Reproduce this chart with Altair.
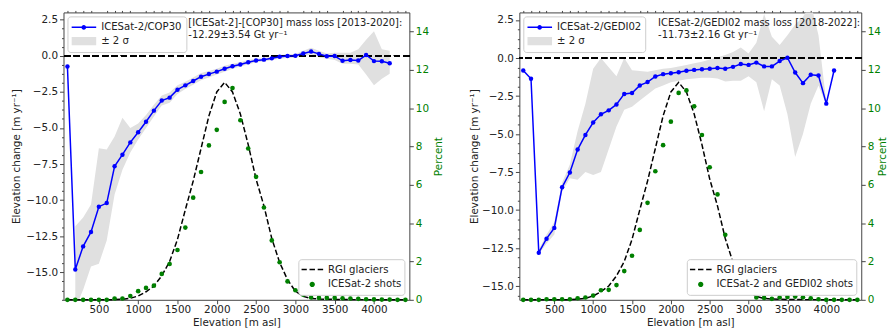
import altair as alt
import numpy as np
import pandas as pd

FONT = "DejaVu Sans"
BLUE = "#0000ff"
GREEN = "#008000"
GREY = "#e0e0e0"
FRAME = "#444444"
TXT = "#222222"
H = 290

# ---------------- data ----------------
elev = [100, 200, 300, 400, 500, 600, 700, 800, 900, 1000, 1100, 1200, 1300, 1400,
        1500, 1600, 1700, 1800, 1900, 2000, 2100, 2200, 2300, 2400, 2500, 2600, 2700,
        2800, 2900, 3000, 3100, 3200, 3300, 3400, 3500, 3600, 3700, 3800, 3900, 4000,
        4100, 4200, 4300, 4400]

# RGI glacier hypsometry [%] (same in both panels)
rgi_pct = [0.0, 0.0, 0.0, 0.0, 0.0, 0.0, 0.01, 0.03, 0.08, 0.2, 0.42, 0.72, 1.25, 2.0,
           3.15, 4.7, 6.2, 7.9, 9.6, 10.85, 11.35, 10.85, 9.7, 8.1, 6.3, 4.9, 3.2,
           1.95, 1.05, 0.45, 0.18, 0.07, 0.04, 0.03, 0.02, 0.02, 0.01, 0.01, 0.01, 0.0,
           0.0, 0.0, 0.0, 0.0]

# Left panel: ICESat-2/COP30 (100..4200)
cop_dh = [-0.75, -14.8, -13.2, -12.2, -10.45, -10.2, -7.65, -6.85, -6.0, -5.3, -4.57,
          -3.8, -3.1, -2.9, -2.35, -2.05, -1.75, -1.45, -1.27, -1.1, -0.9, -0.73, -0.6,
          -0.45, -0.33, -0.27, -0.18, -0.07, -0.02, 0.0, 0.15, 0.3, 0.13, -0.03, -0.02,
          -0.35, -0.3, -0.33, 0.05, -0.37, -0.38, -0.52]
# +-2 sigma band (200..4200)
cop_hi = [-11.8, -11.2, -10.3, -6.4, -6.5, -5.6, -4.3, -5.0, -4.7, -4.1, -3.4, -2.75,
          -2.55, -2.05, -1.8, -1.5, -1.2, -1.05, -0.9, -0.7, -0.55, -0.45, -0.3, -0.2,
          -0.15, -0.05, 0.05, 0.1, 0.12, 0.35, 0.55, 0.35, 0.15, 0.2, 0.2, 0.2, 0.45,
          1.1, 1.7, 0.45, 0.35]
cop_lo = [-17.5, -16.2, -14.6, -14.4, -12.8, -9.6, -7.9, -6.7, -5.8, -5.0, -4.2, -3.45,
          -3.25, -2.65, -2.3, -2.0, -1.7, -1.5, -1.3, -1.1, -0.9, -0.75, -0.6, -0.45,
          -0.4, -0.3, -0.2, -0.15, -0.12, -0.05, 0.1, -0.1, -0.2, -0.3, -0.55, -0.55,
          -0.6, -1.3, -2.05, -1.6, -1.25]
is2_pct = [0.0, 0.0, 0.0, 0.0, 0.0, 0.0, 0.07, 0.07, 0.2, 0.45, 0.62, 0.74, 1.35, 1.87,
           2.6, 3.77, 5.33, 6.67, 8.06, 8.87, 10.33, 11.05, 9.37, 7.9, 6.42, 4.82, 3.1,
           1.96, 0.96, 0.5, 0.27, 0.12, 0.1, 0.1, 0.1, 0.08, 0.07, 0.05, 0.03, 0.02,
           0.01, 0.01, 0.0, 0.0]

# Right panel: ICESat-2/GEDI02 (100..4100)
gedi_dh = [-0.82, -1.36, -12.8, -11.88, -11.17, -8.5, -7.53, -6.02, -5.06, -4.24, -3.7,
           -3.44, -3.05, -2.36, -2.3, -1.8, -1.58, -1.21, -1.06, -1.0, -0.93, -0.84,
           -0.78, -0.74, -0.7, -0.65, -0.7, -0.58, -0.39, -0.45, -0.3, -0.55, -0.55,
           -0.2, 0.02, -0.95, -1.65, -1.1, -1.15, -3.0, -0.82]
# +-2 sigma band (300..4000)
gedi_hi = [-12.6, -11.6, -10.8, -8.2, -7.0, -4.8, -3.0, -0.7, 0.0, -0.6, -1.2, 0.0,
           -0.8, -0.85, -0.9, -0.8, -0.7, -0.65, -0.55, -0.45, -0.35, -0.25, -0.1, 0.05,
           0.2, 0.4, 0.7, 0.3, 1.0, 2.9, 1.4, 0.85, 1.5, 2.2, 2.7, 3.6, 1.5, -2.9]
gedi_lo = [-12.9, -12.2, -11.6, -8.8, -7.9, -8.0, -7.5, -7.7, -7.5, -6.0, -4.5, -3.4,
           -3.2, -2.8, -2.4, -2.0, -1.8, -1.6, -1.5, -1.4, -1.35, -1.3, -1.3, -1.35,
           -1.55, -1.5, -1.5, -1.2, -1.6, -3.5, -1.4, -1.8, -3.7, -6.5, -5.0, -3.0,
           -1.8, -3.1]
gedi_pct = [0.0, 0.0, 0.0, 0.03, 0.03, 0.03, 0.03, 0.08, 0.12, 0.22, 0.5, 0.52, 0.77,
            1.5, 2.3, 3.65, 5.06, 6.71, 8.07, 9.3, 10.8, 10.93, 10.1, 8.6, 6.92, 5.5,
            3.39, 1.93, 0.9, 0.38, 0.12, 0.1, 0.05, 0.12, 0.15, 0.17, 0.13, 0.08, 0.03,
            0.0, 0.0, 0.0, 0.0, 0.0]

x_ticks = [500, 1000, 1500, 2000, 2500, 3000, 3500, 4000]
y_ticks = [2.5, 0.0, -2.5, -5.0, -7.5, -10.0, -12.5, -15.0]
p_ticks = [0, 2, 4, 6, 8, 10, 12, 14]
x_minor = [v for v in elev if v % 500 != 0]
y_minor = [round(v, 3) for v in np.arange(-16.875, 3.01, 0.625) if abs(v / 2.5 - round(v / 2.5)) > 1e-6]

SIGMA = "± 2 σ"

# legend symbol paths (unit coordinates)
P_LINEDOT = ("M-1,-0.06L1,-0.06L1,0.06L-1,0.06Z "
             "M0.19,0A0.19,0.19,0,1,1,-0.19,0A0.19,0.19,0,1,1,0.19,0Z")
P_RECT = "M-1,-0.34L1,-0.34L1,0.34L-1,0.34Z"
P_DASH = ("M-1,-0.07L-0.5,-0.07L-0.5,0.07L-1,0.07Z "
          "M-0.25,-0.07L0.25,-0.07L0.25,0.07L-0.25,0.07Z "
          "M0.5,-0.07L1,-0.07L1,0.07L0.5,0.07Z")
P_DOT = "M0.24,0A0.24,0.24,0,1,1,-0.24,0A0.24,0.24,0,1,1,0.24,0Z"

MINUS = "replace(format(datum.value, '.1f'), '-', '\u2212')"


def panel(name, dh, band_start, hi, lo, pct, pct_label, text_lines, text_x, ymin, w,
          ytitle_x, ptitle_x):
    xs = alt.Scale(domain=[50, 4450], nice=False, zero=False)
    ys = alt.Scale(domain=[ymin, 3.0], nice=False, zero=False)
    ps = alt.Scale(domain=[0, 15], nice=False, zero=False)

    n = len(dh)
    df_line = pd.DataFrame({"elev": elev[:n], "dh": dh, "series": name})
    i0 = elev.index(band_start)
    df_band = pd.DataFrame({"elev": elev[i0:i0 + len(hi)], "hi": hi, "lo": lo})
    df_pct = pd.DataFrame({"elev": elev, "rgi": rgi_pct, "pct": pct, "shots": pct_label})

    ax_x = alt.Axis(values=x_ticks, format="d", title="Elevation [m asl]", grid=False,
                    domain=False, tickSize=4, tickColor=FRAME, labelPadding=1,
                    titlePadding=2, labelFlush=False, labelOverlap=False)
    ax_x_minor = alt.Axis(values=x_minor, labels=False, title=None, grid=False,
                          domain=False, tickSize=2, tickColor=FRAME)
    ax_y = alt.Axis(values=y_ticks, labelExpr=MINUS, title="Elevation change [m yr\u207b\u00b9]",
                    orient="left", grid=False, domain=False, tickSize=4, tickColor=FRAME,
                    labelPadding=2, labelOverlap=False, titleAngle=270,
                    titleX=ytitle_x, titleY=H / 2, titleAlign="center",
                    titleBaseline="middle")
    ax_y_minor = alt.Axis(values=y_minor, labels=False, title=None, orient="left",
                          grid=False, domain=False, tickSize=2, tickColor=FRAME)
    ax_p = alt.Axis(values=p_ticks, format="d", title="Percent", orient="right",
                    labelColor=GREEN, titleColor=GREEN, grid=False,
                    domain=False, tickSize=4, tickColor=FRAME, labelPadding=2,
                    labelOverlap=False, titleAngle=270, titleX=ptitle_x, titleY=H / 2,
                    titleAlign="center", titleBaseline="middle")

    band = alt.Chart(df_band).mark_area(color=GREY, clip=True).encode(
        x=alt.X("elev:Q", scale=xs, axis=ax_x),
        y=alt.Y("hi:Q", scale=ys, axis=ax_y),
        y2="lo:Q",
    )
    zero = alt.Chart(df_band).mark_rule(color="black", strokeWidth=1.5,
                                        strokeDash=[6, 3.5]).encode(
        y=alt.YDatum(0, scale=ys, axis=None)
    )
    line = alt.Chart(df_line).mark_line(color=BLUE, strokeWidth=1.5).encode(
        x=alt.X("elev:Q", scale=xs, axis=ax_x_minor),
        y=alt.Y("dh:Q", scale=ys, axis=ax_y_minor),
    )
    legA = alt.Legend(
        title=None, orient="top-left", offset=4, padding=4, fillColor="white",
        strokeColor="#cccccc", cornerRadius=3, labelFont=FONT, labelFontSize=10.2,
        labelColor=TXT, symbolSize=625, symbolStrokeWidth=0, symbolOpacity=1,
        clipHeight=14, rowPadding=0, labelOffset=5,
        symbolType={"expr": f"datum.value === '{SIGMA}' ? '{P_RECT}' : '{P_LINEDOT}'"},
    )
    pts = alt.Chart(df_line).mark_circle(size=20, opacity=1).encode(
        x=alt.X("elev:Q", scale=xs, axis=None),
        y=alt.Y("dh:Q", scale=ys, axis=None),
        color=alt.Color("series:N", scale=alt.Scale(domain=[name, SIGMA], range=[BLUE, GREY]),
                        legend=legA),
    )
    rgi = alt.Chart(df_pct).mark_line(color="black", strokeWidth=1.5,
                                      strokeDash=[5.5, 2.5]).encode(
        x=alt.X("elev:Q", scale=xs, axis=None),
        y=alt.Y("rgi:Q", scale=ps, axis=None),
    )
    legB = alt.Legend(
        title=None, orient="bottom-right", offset=5, padding=3, fillColor="white",
        strokeColor="#cccccc", cornerRadius=3, labelFont=FONT, labelFontSize=10.2,
        labelColor=TXT, symbolSize=484, symbolStrokeWidth=0, symbolOpacity=1,
        clipHeight=15, rowPadding=0, labelOffset=5,
        symbolType={"expr": f"datum.value === 'RGI glaciers' ? '{P_DASH}' : '{P_DOT}'"},
    )
    shots = alt.Chart(df_pct).mark_circle(size=22, opacity=1).encode(
        x=alt.X("elev:Q", scale=xs, axis=None),
        y=alt.Y("pct:Q", scale=ps, axis=ax_p),
        fill=alt.Fill("shots:N", scale=alt.Scale(domain=["RGI glaciers", pct_label],
                                                   range=["black", GREEN]), legend=legB),
    )
    txt = alt.Chart(pd.DataFrame({"k": [0]})).mark_text(
        align="left", baseline="top", font=FONT, fontSize=10, color=TXT, lineHeight=11.5
    ).encode(x=alt.value(text_x), y=alt.value(6), text=alt.value(text_lines))

    return alt.layer(band, zero, line, pts, rgi, shots, txt).resolve_scale(
        y="independent").resolve_axis(x="independent", y="independent").properties(
        width=w, height=H)


left = panel("ICESat-2/COP30", cop_dh, 200, cop_hi, cop_lo, is2_pct, "ICESat-2 shots",
             ["[ICESat-2]-[COP30] mass loss [2013-2020]:", "-12.29\u00b13.54 Gt yr\u207b\u00b9"],
             126, -16.9, 349, -47, 29)
right = panel("ICESat-2/GEDI02", gedi_dh, 300, gedi_hi, gedi_lo, gedi_pct,
              "ICESat-2 and GEDI02 shots",
              ["ICESat-2/GEDI02 mass loss [2018-2022]:", "-11.73\u00b12.16 Gt yr\u207b\u00b9"],
              140, -15.9, 345, -45, 21)

chart = alt.hconcat(left, right, spacing=25).resolve_scale(
    color="independent", fill="independent").properties(
    padding={"left": 3, "top": 0, "right": 0, "bottom": 0}
).configure(font=FONT).configure_view(stroke=FRAME, strokeWidth=1).configure_axis(
    labelFont=FONT, labelFontSize=10.5, labelColor=TXT, titleFont=FONT, titleFontSize=10.5,
    titleFontWeight="normal", titleColor=TXT)

chart.save("out.html", embed_options={"renderer": "svg", "actions": False})
